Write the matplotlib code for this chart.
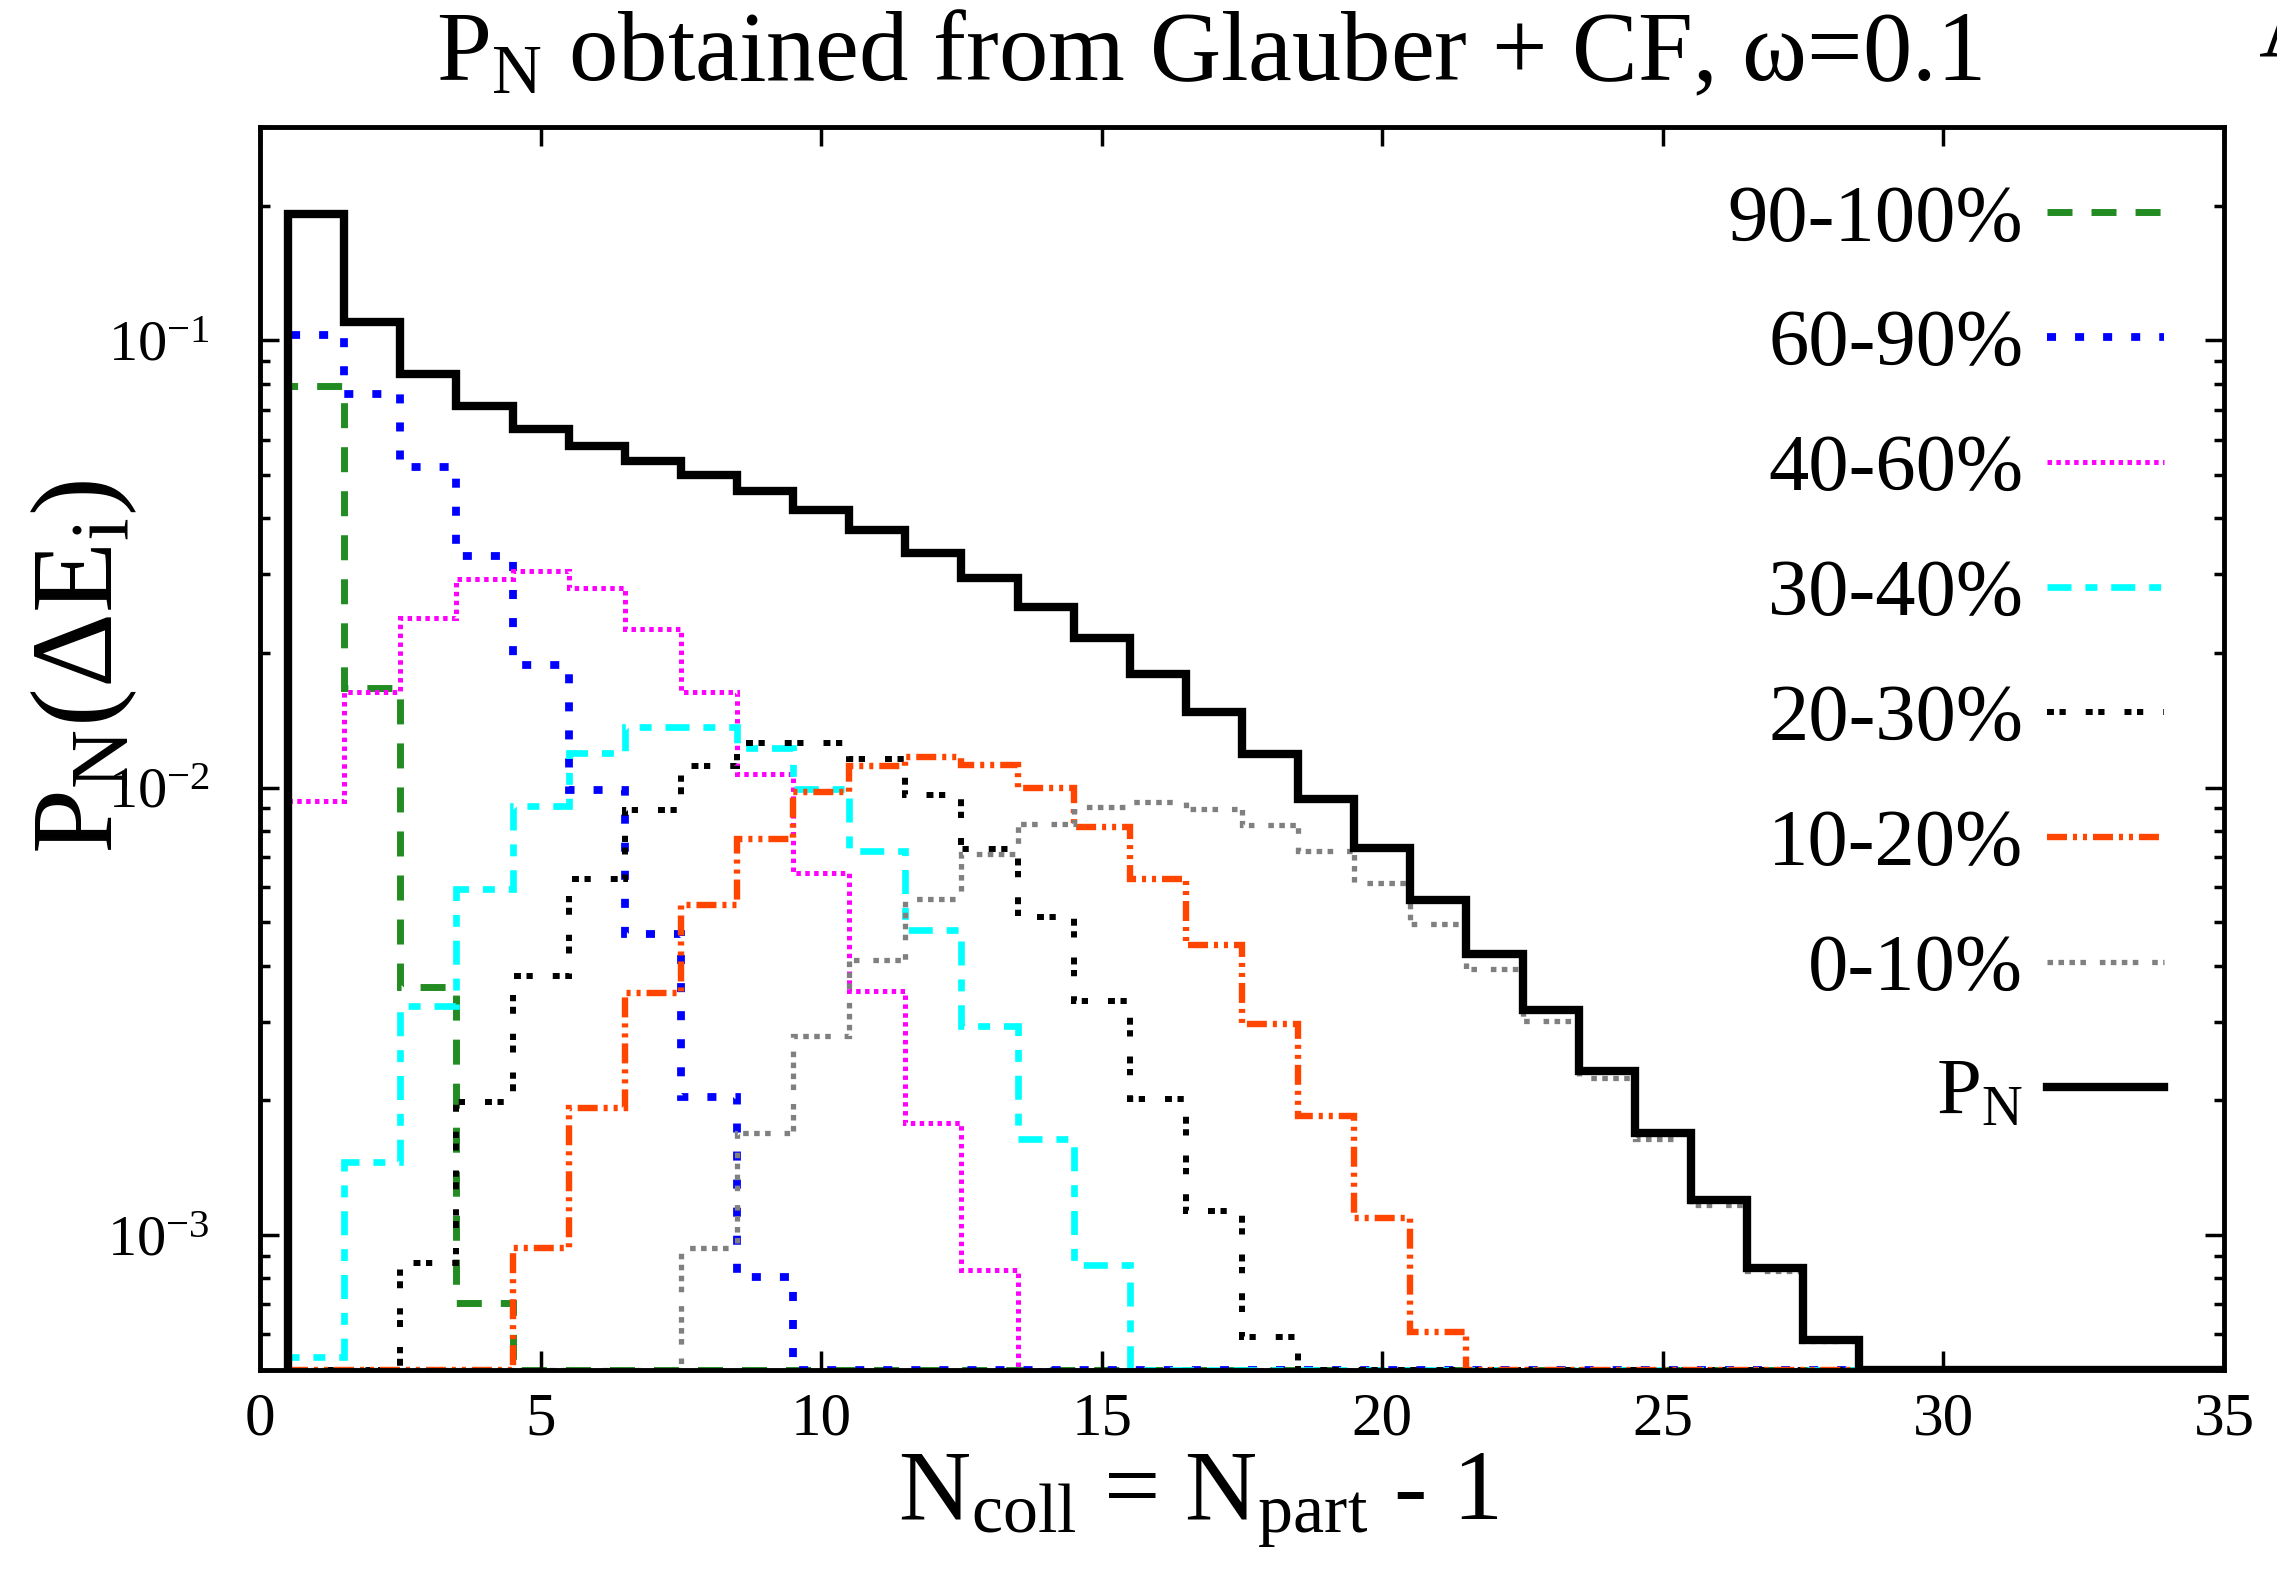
import numpy as np
import matplotlib
matplotlib.use("Agg")
import matplotlib.pyplot as plt
from matplotlib.lines import Line2D

plt.rcParams['font.family'] = ['Liberation Serif', 'DejaVu Serif']
plt.rcParams['mathtext.fontset'] = 'custom'
plt.rcParams['mathtext.rm'] = 'Liberation Serif'
plt.rcParams['mathtext.it'] = 'Liberation Serif:italic'
plt.rcParams['mathtext.bf'] = 'Liberation Serif:bold'

# ---------------- data (N_coll = 1 .. 28, bins of width 1) ----------------
n_coll = np.arange(1, 29)

p_90_100 = [0.0792, 0.01667, 0.00359, 0.000706] + [0] * 24
p_60_90 = [0.1026, 0.0757, 0.0522, 0.0330, 0.0188, 0.00988, 0.00471, 0.00204,
           0.000807] + [0] * 19
p_40_60 = [0.00936, 0.01633, 0.02393, 0.02921, 0.03055, 0.0279, 0.0226, 0.0164,
           0.01074, 0.00645, 0.00352, 0.00178, 0.000834] + [0] * 15
p_30_40 = [0.000535, 0.00146, 0.00325, 0.00595, 0.00912, 0.01193, 0.01365,
           0.01365, 0.0123, 0.00996, 0.00721, 0.0048, 0.00293, 0.00164,
           0.000856] + [0] * 13
p_20_30 = [0, 0, 0.000865, 0.00198, 0.0038, 0.00625, 0.00893, 0.01119, 0.01262,
           0.0126, 0.0116, 0.00962, 0.00731, 0.00515, 0.00333, 0.00201,
           0.00113, 0.000593] + [0] * 10
p_10_20 = [0, 0, 0, 0, 0.000936, 0.00192, 0.00347, 0.00547, 0.0077, 0.00976,
           0.01119, 0.01169, 0.01125, 0.00997, 0.00817, 0.00625, 0.00445,
           0.00296, 0.00185, 0.00109, 0.000608] + [0] * 7
p_0_10 = [0, 0, 0, 0, 0, 0, 0, 0.000936, 0.00169, 0.00278, 0.00413, 0.00565,
          0.00711, 0.0083, 0.00908, 0.00927, 0.00898, 0.00826, 0.00724,
          0.00611, 0.00497, 0.00393, 0.00301, 0.00225, 0.00164, 0.00117,
          0.00083, 0.00058]
p_n = [0.192, 0.110, 0.0840, 0.0714, 0.0634, 0.0581, 0.0538, 0.0501, 0.0460,
       0.0418, 0.0377, 0.0335, 0.0294, 0.0254, 0.0216, 0.0180, 0.01476,
       0.01188, 0.00942, 0.00735, 0.00562, 0.00426, 0.00318, 0.00233,
       0.00169, 0.00120, 0.000843, 0.000584]

labels = ['90-100%', '60-90%', '40-60%', '30-40%', '20-30%', '10-20%', '0-10%']
series = [p_90_100, p_60_90, p_40_60, p_30_40, p_20_30, p_10_20, p_0_10]
colors = ['#228B22', '#0000FF', '#FF00FF', '#00FFFF', '#000000', '#FF4500', '#808080']
widths = [5.0, 5.6, 3.6, 4.8, 4.3, 4.6, 3.8]
dash_pt = [(18, 13.7), (6.5, 13.7), (3.2, 3.2), (17.3, 10, 8.6, 10),
           (5, 4, 4.5, 14.4), (14.4, 4.3, 2.9, 4.3, 2.9, 4.3),
           (4, 3.9, 4, 3.9, 4, 3.9, 4, 10)]

YMIN, YMAX = 5e-4, 0.3

fig = plt.figure(figsize=(22.77, 15.81), dpi=100)
ax = fig.add_axes([0.1142, 0.1336, 0.8625, 0.7861])

edges = np.append(n_coll - 0.5, n_coll[-1] + 0.5)
handles = []
for vals, lab, c, lw, d in zip(series, labels, colors, widths, dash_pt):
    v = np.maximum(np.asarray(vals, dtype=float), YMIN)
    ls = (0, tuple(x / lw for x in d))
    ax.stairs(v, edges, baseline=YMIN, fill=False, color=c, lw=lw,
              linestyle=ls, capstyle='butt', joinstyle='miter')
    handles.append(Line2D([], [], color=c, lw=lw, linestyle=ls,
                          solid_capstyle='butt', dash_capstyle='butt'))

# P_N: extend along the bottom to the right edge
pn_vals = np.maximum(np.asarray(p_n + [0] * 7, dtype=float), YMIN)
pn_edges = np.arange(0.5, 36.0, 1.0)
ax.stairs(pn_vals, pn_edges, baseline=YMIN, fill=False, color='black', lw=6,
          joinstyle='miter')
handles.append(Line2D([], [], color='black', lw=6))
all_labels = labels + [r'P$_\mathrm{N}$']

ax.set_yscale('log')
ax.set_xlim(0, 35)
ax.set_ylim(YMIN, YMAX)
ax.set_xticks(np.arange(0, 36, 5))
ax.xaxis.set_minor_locator(matplotlib.ticker.NullLocator())
ax.yaxis.set_minor_locator(matplotlib.ticker.LogLocator(base=10, subs=np.arange(2, 10)))
ax.yaxis.set_minor_formatter(matplotlib.ticker.NullFormatter())

ax.tick_params(axis='both', which='major', direction='in', length=14, width=2.5,
               top=True, right=True, labelsize=44)
ax.tick_params(axis='both', which='minor', direction='in', length=7, width=2.5,
               top=True, right=True)
ax.tick_params(axis='x', which='major', pad=16)
ax.tick_params(axis='y', which='major', pad=36, labelsize=42)
for s in ax.spines.values():
    s.set_linewidth(3.5)

leg = ax.legend(handles, all_labels, loc='upper right', bbox_to_anchor=(0.986, 0.98),
                frameon=False, markerfirst=False, fontsize=58, handlelength=1.45,
                handletextpad=0.3, labelspacing=0.64, borderaxespad=0.0)

fig.text(0.531, 0.949, r'P$_\mathrm{N}$ obtained from Glauber + CF, ω=0.1',
         ha='center', va='baseline', fontsize=71)
fig.text(0.526, 0.0386, r'N$_\mathrm{coll}$ = N$_\mathrm{part}$ - 1',
         ha='center', va='baseline', fontsize=72)
fig.text(0.037, 0.578, r'P$_\mathrm{N}$($\Delta$E$_\mathrm{i}$)', rotation=90,
         ha='center', va='center', fontsize=84)
fig.text(0.992, 0.965, 'A', ha='left', va='baseline', fontsize=70)

fig.savefig('out.png', dpi=100)
